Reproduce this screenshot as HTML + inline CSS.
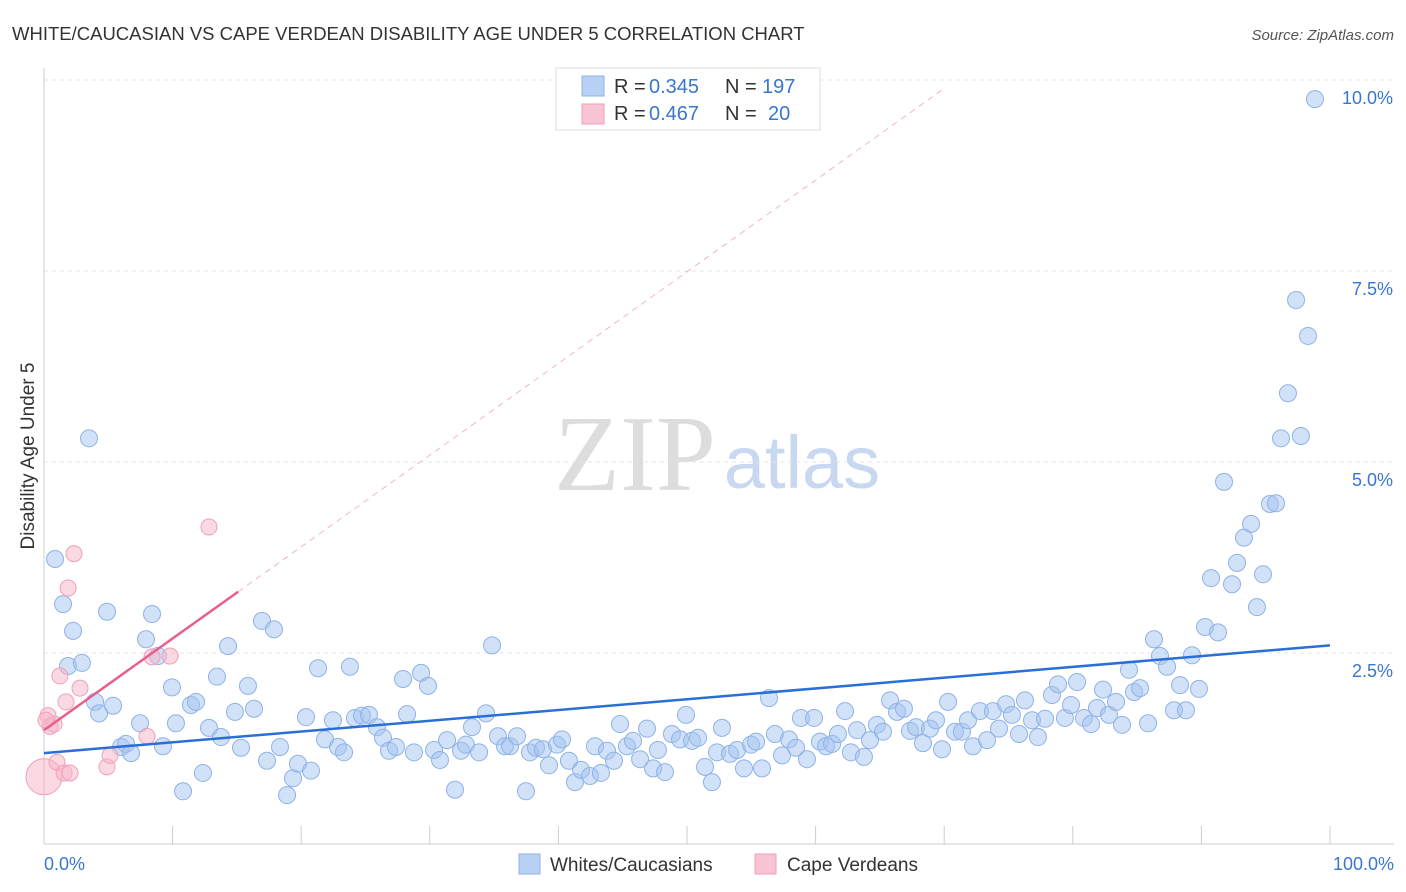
<!DOCTYPE html>
<html><head><meta charset="utf-8"><style>
body{margin:0;background:#fff;font-family:"Liberation Sans",sans-serif}
svg{display:block}
</style></head><body>
<svg id="chart" width="1406" height="892">
<text x="12" y="40" font-size="18.5" fill="#333">WHITE/CAUCASIAN VS CAPE VERDEAN DISABILITY AGE UNDER 5 CORRELATION CHART</text>
<text x="1394" y="40" font-size="15" fill="#555" font-style="italic" text-anchor="end">Source: ZipAtlas.com</text>
<text x="34" y="456" font-size="19" fill="#333" text-anchor="middle" transform="rotate(-90 34 456)">Disability Age Under 5</text>
<g>
<text x="635" y="490" font-size="108" fill="#ddd" font-family="Liberation Serif,serif" text-anchor="middle">ZIP</text>
<text x="802" y="488" font-size="74" fill="#c8d8f0" text-anchor="middle">atlas</text>
</g>
<g id="grid"></g>
<g id="marks"></g>
<g id="legend">
<rect x="556" y="68" width="264" height="62" fill="#fff" stroke="#ddd"/>
<rect x="582" y="76" width="22" height="20" fill="#b8d0f4" stroke="#8fb3e6"/>
<rect x="582" y="104" width="22" height="20" fill="#f8c4d4" stroke="#f0a0b8"/>
<text x="614" y="93" font-size="20" fill="#333">R =</text>
<text x="649" y="93" font-size="20" fill="#3a76d0">0.345</text>
<text x="725" y="93" font-size="20" fill="#333">N =</text>
<text x="762" y="93" font-size="20" fill="#3a76d0">197</text>
<text x="614" y="120" font-size="20" fill="#333">R =</text>
<text x="649" y="120" font-size="20" fill="#3a76d0">0.467</text>
<text x="725" y="120" font-size="20" fill="#333">N =</text>
<text x="768" y="120" font-size="20" fill="#3a76d0">20</text>
</g>
<g>
<rect x="519" y="854" width="21" height="20" fill="#b8d0f4" stroke="#8fb3e6"/>
<text x="550" y="871" font-size="19" fill="#333">Whites/Caucasians</text>
<rect x="755" y="854" width="21" height="20" fill="#f8c4d4" stroke="#f0a0b8"/>
<text x="787" y="871" font-size="19" fill="#333">Cape Verdeans</text>
</g>
</svg>
<script>
const yTicks=[2.5,5.0,7.5,10.0];
const yTickLabels=["2.5%","5.0%","7.5%","10.0%"];
const xTicks=[0,10,20,30,40,50,60,70,80,90,100];
const xTickLabels=["0.0%","100.0%"];
const blueX=[0.86,3.5,1.48,2.26,1.87,2.95,3.97,4.28,5.37,4.9,5.99,6.38,6.77,7.47,7.93,8.4,8.86,9.25,9.95,10.26,10.81,11.43,11.82,12.36,12.83,13.45,13.76,14.31,14.85,15.32,15.86,16.33,16.95,17.34,17.88,18.35,18.9,19.36,19.75,20.37,20.76,21.31,21.85,22.47,22.86,23.33,23.79,24.18,24.73,25.27,25.89,26.36,26.83,27.37,27.92,28.23,28.77,29.32,29.86,30.33,30.79,31.34,31.96,32.43,32.81,33.28,33.83,34.37,34.84,35.3,35.85,36.24,36.78,37.48,37.79,38.26,38.8,39.27,39.89,40.28,40.82,41.29,41.76,42.46,42.85,43.31,43.78,44.32,44.79,45.33,45.8,46.35,46.89,47.36,47.74,48.29,48.83,49.46,49.92,50.39,50.86,51.4,51.94,52.33,52.72,53.34,53.89,54.43,54.98,55.37,55.83,56.38,56.84,57.39,57.93,58.48,58.86,59.33,59.88,60.34,60.81,61.28,61.74,62.29,62.75,63.22,63.76,64.23,64.77,65.24,65.79,66.33,66.87,67.34,67.81,68.35,68.9,69.36,69.83,70.3,70.84,71.38,71.85,72.24,72.78,73.33,73.79,74.26,74.81,75.27,75.82,76.28,76.83,77.29,77.84,78.38,78.85,79.39,79.86,80.33,80.87,81.42,81.88,82.35,82.81,83.36,83.83,84.37,84.76,85.23,85.85,86.31,86.78,87.33,87.87,88.34,88.8,89.27,89.81,90.28,90.75,91.29,91.76,92.38,92.77,93.31,93.86,94.32,94.79,95.33,95.8,96.19,96.73,97.36,97.74,98.29,98.83];
const blueY=[3.73,5.31,3.14,2.79,2.33,2.37,1.86,1.71,1.81,3.04,1.27,1.31,1.19,1.58,2.68,3.01,2.46,1.28,2.05,1.58,0.69,1.82,1.86,0.93,1.52,2.19,1.4,2.59,1.73,1.26,2.07,1.77,2.92,1.09,2.81,1.27,0.64,0.86,1.05,1.66,0.96,2.3,1.37,1.62,1.27,1.2,2.32,1.65,1.68,1.69,1.53,1.39,1.22,1.27,2.16,1.7,1.2,2.24,2.07,1.23,1.1,1.36,0.71,1.22,1.3,1.53,1.2,1.71,2.6,1.41,1.28,1.28,1.41,0.69,1.2,1.26,1.24,1.03,1.3,1.37,1.09,0.81,0.97,0.89,1.28,0.93,1.22,1.09,1.57,1.28,1.35,1.11,1.51,0.99,1.23,0.94,1.44,1.37,1.69,1.35,1.39,1.01,0.81,1.2,1.52,1.18,1.23,0.99,1.3,1.34,0.99,1.91,1.44,1.16,1.37,1.26,1.65,1.11,1.65,1.34,1.28,1.31,1.44,1.74,1.2,1.49,1.14,1.36,1.56,1.47,1.88,1.73,1.77,1.48,1.53,1.32,1.51,1.62,1.24,1.86,1.47,1.47,1.62,1.28,1.74,1.36,1.74,1.51,1.83,1.69,1.44,1.88,1.62,1.4,1.64,1.95,2.09,1.65,1.82,2.12,1.65,1.57,1.78,2.02,1.69,1.86,1.56,2.28,1.99,2.04,1.58,2.68,2.46,2.32,1.75,2.08,1.75,2.47,2.03,2.84,3.48,2.77,4.74,3.4,3.68,4.01,4.19,3.1,3.53,4.45,4.46,5.31,5.9,7.12,5.34,6.65,9.75];
const pinkX=[0.31,0.47,0.78,1.01,1.24,1.56,1.87,1.71,2.02,2.33,2.8,4.9,5.13,8.01,8.4,9.8,12.83,0.16];
const pinkY=[1.68,1.54,1.57,1.07,2.2,0.93,3.35,1.86,0.93,3.8,2.04,1.01,1.16,1.41,2.45,2.46,4.15,1.62];
const bigPink=[0,0.88];
const blueTrend=[1.19,2.6];
const pinkTrend=[1.49,0.12];
const NS="http://www.w3.org/2000/svg";
const X0=44,X1=1330,Y0=844,PPY=76.4;
function sx(v){return X0+(X1-X0)*v/100;}
function sy(v){return Y0-v*PPY;}
function mk(tag,attrs,parent){const e=document.createElementNS(NS,tag);for(const k in attrs)e.setAttribute(k,attrs[k]);parent.appendChild(e);return e;}
const grid=document.getElementById('grid'),marks=document.getElementById('marks');
yTicks.forEach((t,i)=>{
 const g=mk('line',{x1:X0,y1:sy(t),x2:1394,y2:sy(t),stroke:'#e4e4e4','stroke-dasharray':'4,4'},grid);
 
 
 const tx=mk('text',{x:1393,y:sy(t)+24,'font-size':18,fill:'#3a76d0','text-anchor':'end'},grid);
 tx.textContent=yTickLabels[i];
 
 
});
const ax=mk('line',{x1:X0,y1:68,x2:X0,y2:Y0,stroke:'#ccc'},grid);


const bx=mk('line',{x1:X0,y1:Y0,x2:1394,y2:Y0,stroke:'#ccc'},grid);


xTicks.forEach(t=>{
 const tk=mk('line',{x1:sx(t),y1:826,x2:sx(t),y2:Y0,stroke:'#ccc'},grid);
 
 
});
const xl0=mk('text',{x:44,y:870,'font-size':18,fill:'#3a76d0'},grid);xl0.textContent=xTickLabels[0];


const xl1=mk('text',{x:1394,y:870,'font-size':18,fill:'#3a76d0','text-anchor':'end'},grid);xl1.textContent=xTickLabels[1];


blueX.forEach((x,i)=>{
 const c=mk('circle',{cx:sx(x),cy:sy(blueY[i]),r:8.5,fill:'rgba(164,196,240,0.5)',stroke:'#8fb3e6','stroke-width':1},marks);
 
 
});
const bp=mk('circle',{cx:sx(bigPink[0]),cy:sy(bigPink[1]),r:18,fill:'rgba(248,180,200,0.5)',stroke:'#f0a0b8'},marks);


pinkX.forEach((x,i)=>{
 const c=mk('circle',{cx:sx(x),cy:sy(pinkY[i]),r:8,fill:'rgba(248,180,200,0.5)',stroke:'#f0a0b8','stroke-width':1},marks);
 
 
});
const bt=mk('line',{x1:sx(0),y1:sy(blueTrend[0]),x2:sx(100),y2:sy(blueTrend[1]),stroke:'#2a6fd6','stroke-width':2.5},marks);


const pd=mk('line',{x1:sx(15.1),y1:sy(pinkTrend[0]+pinkTrend[1]*15.1),x2:sx(70),y2:sy(pinkTrend[0]+pinkTrend[1]*70),stroke:'#f4b4c8','stroke-width':1,'stroke-dasharray':'6,5'},marks);


const pt=mk('line',{x1:sx(0),y1:sy(pinkTrend[0]),x2:sx(15.1),y2:sy(pinkTrend[0]+pinkTrend[1]*15.1),stroke:'#e8608a','stroke-width':2.5},marks);


</script>
</body></html>
